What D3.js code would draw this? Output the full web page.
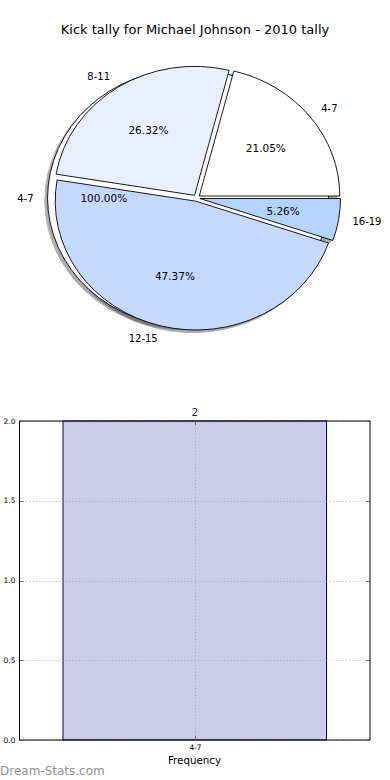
<!doctype html>
<html lang="en">
<head>
<meta charset="utf-8">
<style type="text/css">
body { margin: 0; background: #fff; }
svg text { font-family: "DejaVu Sans", sans-serif; }
</style>
</head>
<body>
<svg id="chart" width="390" height="780"></svg>
<script src="https://cdn.jsdelivr.net/npm/d3@7/dist/d3.min.js"></script>
<script>
// pie data: an underlying single "100%" slice, then the real tally
var fullLabels = ["4-7"];
var fullValues = [100];
var fullColors = ["#ffffff"];
var fullExplode = [0.06];

var pieLabels = ["4-7", "8-11", "12-15", "16-19"];
var pieValues = [21.05, 26.32, 47.37, 5.26];
var pieColors = ["#ffffff", "#e9f0fd", "#c5d9fe", "#b3d4fe"];
var pieExplode = [0.025, 0.025, 0.025, 0.025];

// bar data
var barCategories = ["4-7"];
var barValues = [2];
var yTicks = [0, 0.5, 1.0, 1.5, 2.0];

(function() {
var svg = d3.select("#chart");

svg.append("text")
    .attr("x", 195).attr("y", 34)
    .attr("text-anchor", "middle")
    .style("font-size", "13px")
    .text("Kick tally for Michael Johnson - 2010 tally");

// elliptical pie (axes not equal in matplotlib)
var cx = 196.5, cy = 198, rx = 140.5, ry = 129;
var arc = d3.arc().innerRadius(0).outerRadius(1);
var pie = d3.pie().sort(null)
    .startAngle(Math.PI / 2)
    .endAngle(Math.PI / 2 - 2 * Math.PI);

function buildSlices(labels, values, colors, explode) {
    var total = d3.sum(values);
    return pie(values).map(function(d, i) {
        var theta = Math.PI / 2 - (d.startAngle + d.endAngle) / 2; // mpl angle
        var ux = Math.cos(theta) * rx, uy = -Math.sin(theta) * ry;
        return {
            arc: d,
            label: labels[i],
            pct: d3.format(".2f")(values[i] / total * 100) + "%",
            color: colors[i],
            x: cx + explode[i] * ux,
            y: cy + explode[i] * uy,
            ux: ux, uy: uy
        };
    });
}

var slices = buildSlices(fullLabels, fullValues, fullColors, fullExplode)
    .concat(buildSlices(pieLabels, pieValues, pieColors, pieExplode));

var gShadow = svg.append("g"), gWedge = svg.append("g"), gText = svg.append("g");

function shade(c) { c = d3.rgb(c); return d3.rgb(c.r * 0.3, c.g * 0.3, c.b * 0.3); }

gShadow.selectAll("path").data(slices).enter().append("path")
    .attr("d", function(d) { return arc(d.arc); })
    .attr("transform", function(d) {
        return "translate(" + (d.x - 0.02 * rx) + "," + (d.y + 0.02 * ry) + ") scale(" + rx + "," + ry + ")";
    })
    .attr("vector-effect", "non-scaling-stroke")
    .attr("fill", function(d) { return shade(d.color); })
    .attr("stroke", function(d) { return shade(d.color); })
    .attr("stroke-width", 0.8)
    .attr("opacity", 0.45);

gWedge.selectAll("path").data(slices).enter().append("path")
    .attr("d", function(d) { return arc(d.arc); })
    .attr("transform", function(d) {
        return "translate(" + d.x + "," + d.y + ") scale(" + rx + "," + ry + ")";
    })
    .attr("vector-effect", "non-scaling-stroke")
    .attr("fill", function(d) { return d.color; })
    .attr("stroke", "#000")
    .attr("stroke-width", 0.9);

// labels at 1.1 radius, percentages at 0.6 radius
slices.forEach(function(d) {
    var lx = d.x + 1.1 * d.ux, ly = d.y + 1.1 * d.uy;
    gText.append("text")
        .attr("x", lx).attr("y", ly)
        .attr("dy", "0.36em")
        .attr("text-anchor", lx > d.x ? "start" : "end")
        .style("font-size", "10px")
        .text(d.label);
    gText.append("text")
        .attr("x", d.x + 0.6 * d.ux).attr("y", d.y + 0.6 * d.uy)
        .attr("dy", "0.36em")
        .attr("text-anchor", "middle")
        .style("font-size", "10.5px")
        .text(d.pct);
});

// bar chart
var pLeft = 19.5, pRight = 370, pTop = 421, pBottom = 740;
var x = d3.scaleBand().domain(barCategories).range([pLeft, pRight])
    .paddingInner(0).paddingOuter(0.165);
var y = d3.scaleLinear().domain([0, 2]).range([pBottom, pTop]);

var gBar = svg.append("g");
gBar.selectAll("rect").data(barValues).enter().append("rect")
    .attr("x", function(d, i) { return x(barCategories[i]); })
    .attr("y", function(d) { return y(d); })
    .attr("width", x.bandwidth())
    .attr("height", function(d) { return pBottom - y(d); })
    .attr("fill", "#000080").attr("fill-opacity", 0.2)
    .attr("stroke", "#000080").attr("stroke-width", 1);

gBar.selectAll("text.val").data(barValues).enter().append("text")
    .attr("class", "val")
    .attr("x", function(d, i) { return x(barCategories[i]) + x.bandwidth() / 2; })
    .attr("y", function(d) { return y(d) - 5; })
    .attr("text-anchor", "middle")
    .attr("fill", "#1c1c6e")
    .style("font-size", "10.5px")
    .text(function(d) { return d; });

// grid
var grid = svg.append("g").attr("stroke", "#999").attr("stroke-width", 1)
    .attr("stroke-dasharray", "1,2.3").attr("opacity", 0.8);
grid.selectAll("line.h").data(yTicks).enter().append("line")
    .attr("x1", pLeft).attr("x2", pRight)
    .attr("y1", function(d) { return Math.round(y(d)) + 0.5; })
    .attr("y2", function(d) { return Math.round(y(d)) + 0.5; });
grid.selectAll("line.v").data(barCategories).enter().append("line")
    .attr("x1", function(d) { return Math.round(x(d) + x.bandwidth() / 2) + 0.5; })
    .attr("x2", function(d) { return Math.round(x(d) + x.bandwidth() / 2) + 0.5; })
    .attr("y1", pTop).attr("y2", pBottom);

// axes frame
svg.append("rect")
    .attr("x", pLeft).attr("y", pTop)
    .attr("width", pRight - pLeft).attr("height", pBottom - pTop)
    .attr("fill", "none").attr("stroke", "#000").attr("stroke-width", 1);

// ticks (inward) and labels
var ticks = svg.append("g").attr("stroke", "#555").attr("stroke-width", 0.8);
yTicks.forEach(function(t) {
    var yy = Math.round(y(t)) + 0.5;
    ticks.append("line").attr("x1", pLeft).attr("x2", pLeft + 4).attr("y1", yy).attr("y2", yy);
    ticks.append("line").attr("x1", pRight - 4).attr("x2", pRight).attr("y1", yy).attr("y2", yy);
    svg.append("text")
        .attr("x", pLeft - 4).attr("y", y(t))
        .attr("dy", "0.36em")
        .attr("text-anchor", "end")
        .style("font-size", "7.5px")
        .text(d3.format(".1f")(t));
});
barCategories.forEach(function(c) {
    var xx = Math.round(x(c) + x.bandwidth() / 2) + 0.5;
    ticks.append("line").attr("x1", xx).attr("x2", xx).attr("y1", pBottom).attr("y2", pBottom - 4);
    ticks.append("line").attr("x1", xx).attr("x2", xx).attr("y1", pTop).attr("y2", pTop + 4);
    svg.append("text")
        .attr("x", xx).attr("y", pBottom + 9.5)
        .attr("text-anchor", "middle")
        .style("font-size", "7.5px")
        .text(c);
});

svg.append("text")
    .attr("x", 194.5).attr("y", 764)
    .attr("text-anchor", "middle")
    .style("font-size", "10.3px")
    .text("Frequency");

svg.append("text")
    .attr("x", 0).attr("y", 775)
    .attr("fill", "#8f8f8f")
    .style("font-size", "12px")
    .text("Dream-Stats.com");
})();
</script>
</body>
</html>
